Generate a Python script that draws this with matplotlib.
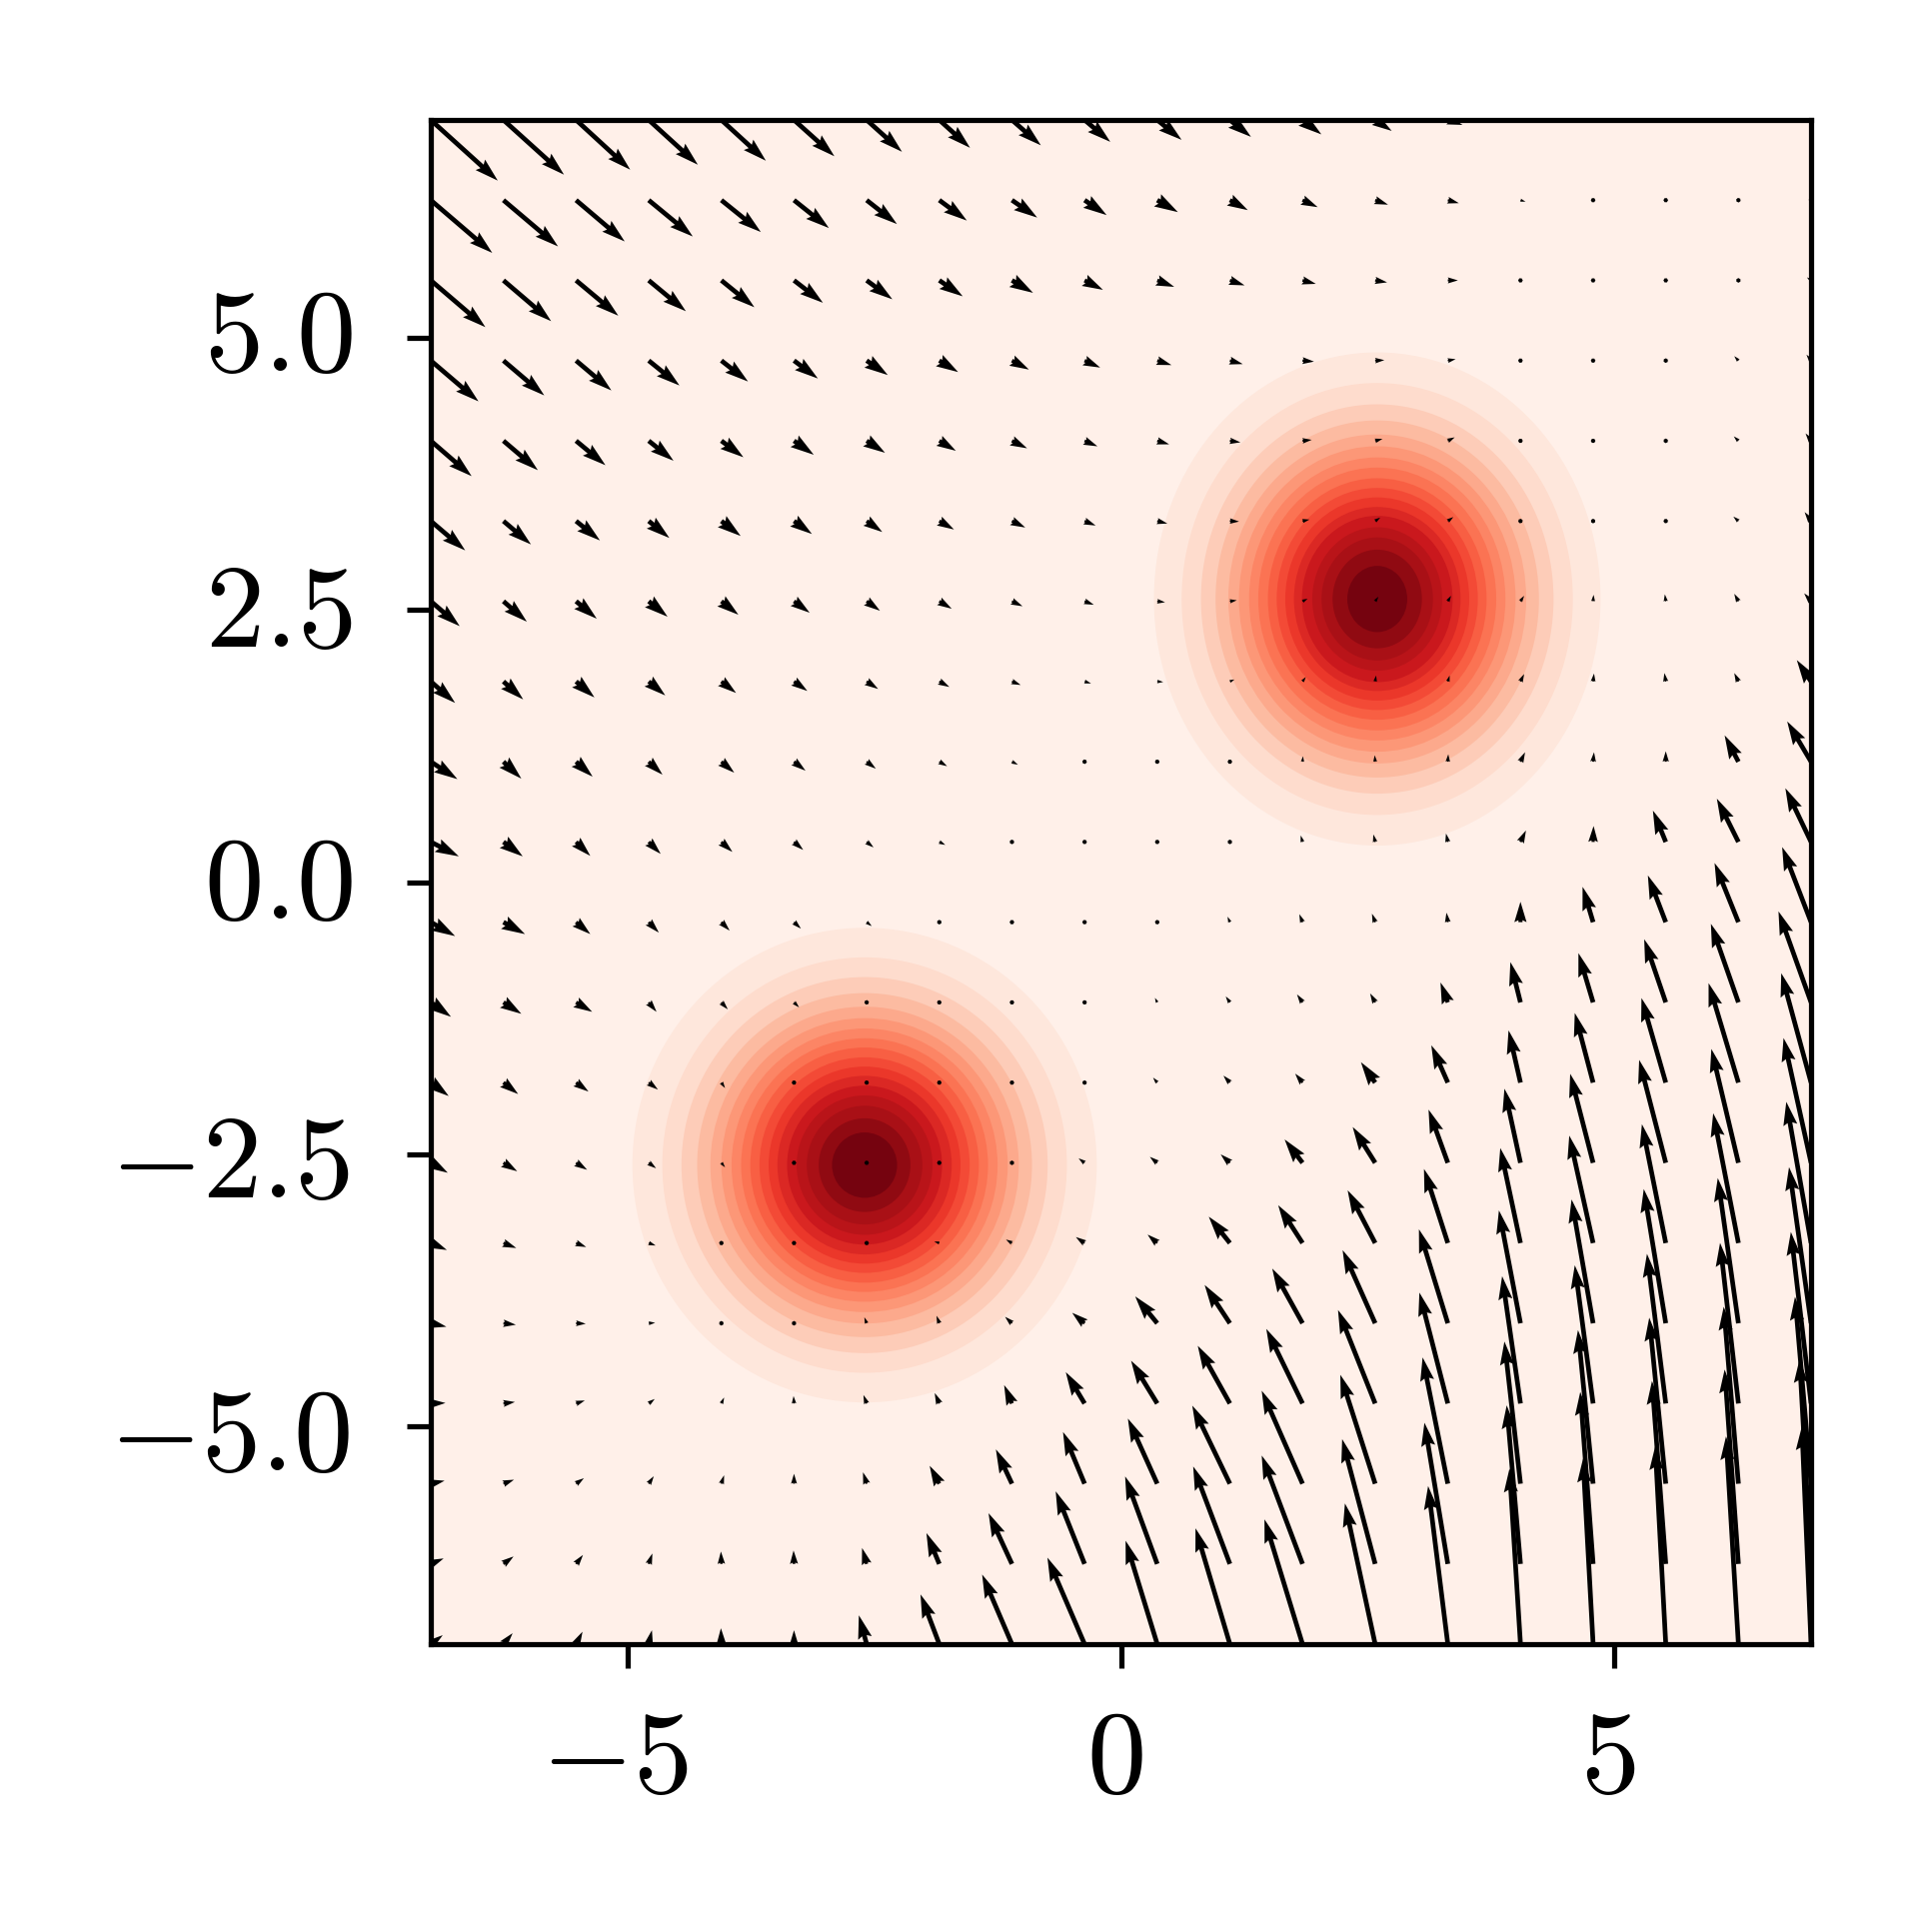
import numpy as np
import matplotlib
matplotlib.use('Agg')
from matplotlib import pyplot as plt
from matplotlib.patches import Ellipse
from matplotlib.transforms import ScaledTranslation

plt.rcParams['mathtext.fontset'] = 'cm'

# arrow components per grid point, rows run from y=7 down to y=-7
# units are 1/215 of a data unit in x, 1/219 in y; v is measured downward
u_rows = [
    [146,132,118,107,97,88,77,67,63,56,53,46,41,36,32,15,0,0,0,0],
    [134,119,106,96,86,76,66,60,55,48,45,39,33,28,24,11,0,0,3,-5],
    [119,104,92,81,72,63,56,51,46,40,37,32,29,26,22,0,0,0,-6,-9],
    [104,89,77,67,58,52,46,41,37,34,31,28,25,20,17,0,0,-6,-9,-10],
    [89,75,64,54,48,43,40,36,33,28,26,23,20,16,15,0,0,-8,-10,-12],
    [75,60,52,45,42,39,34,32,29,24,22,20,15,11,12,2,0,-6,-11,-14],
    [63,51,45,41,37,34,29,27,23,20,17,15,11,7,7,8,1,-2,-9,-15],
    [53,43,40,36,32,29,25,22,19,14,13,10,7,2,4,8,2,-3,-9,-31],
    [58,39,36,30,28,25,20,17,13,8,0,0,1,-1,1,10,2,0,-30,-52],
    [61,42,31,26,24,20,15,13,9,0,0,-1,-4,-4,-4,12,1,-28,-47,-56],
    [53,47,31,22,18,15,11,7,0,0,-2,-5,-7,-7,-3,0,-23,-39,-52,-63],
    [44,39,35,17,14,11,6,0,0,0,-5,-9,-12,-11,-16,-22,-32,-47,-60,-71],
    [39,32,27,20,8,6,0,0,0,-5,-9,-14,-16,-31,-36,-26,-40,-53,-65,-65],
    [37,30,24,16,8,0,0,0,-8,-13,-16,-20,-39,-49,-42,-35,-50,-58,-59,-60],
    [35,28,22,15,9,0,0,-11,-13,-19,-21,-46,-53,-60,-52,-44,-52,-52,-55,-54],
    [34,27,21,14,8,0,-5,-6,-15,-27,-48,-55,-66,-71,-63,-47,-47,-48,-45,-48],
    [32,25,19,13,6,-1,-7,-10,-17,-41,-57,-70,-79,-81,-62,-40,-40,-41,-40,-44],
    [30,23,17,11,6,0,-8,-21,-35,-47,-64,-82,-89,-76,-55,-35,-33,-36,-32,-35],
    [28,22,15,8,-1,-1,-10,-28,-51,-63,-70,-80,-89,-72,-51,-30,-28,-30,-30,-25],
    [26,20,14,7,-1,0,-17,-41,-65,-81,-69,-75,-83,-66,-43,-24,-22,-23,-27,-20],
]
v_rows = [
    [122,110,100,90,82,73,64,56,51,44,40,34,29,22,10,6,0,0,0,0],
    [106,93,83,73,64,56,48,41,35,30,24,20,14,9,6,3,0,0,1,-1],
    [94,82,71,62,54,45,38,32,25,19,13,10,7,4,0,0,0,0,-3,-6],
    [82,70,60,50,42,36,29,23,18,14,9,7,2,-1,-3,0,0,-4,-9,-12],
    [71,59,49,40,33,28,24,20,15,11,7,3,-2,-4,-7,0,0,-5,-9,-15],
    [59,47,39,34,30,26,22,17,13,9,5,1,-3,-7,-8,-7,-6,-6,-9,-18],
    [50,41,35,31,27,23,19,15,10,7,2,-2,-5,-9,-11,-11,-13,-14,-15,-16],
    [43,36,32,28,23,19,15,11,7,4,1,-4,-9,-12,-12,-15,-16,-17,-17,-43],
    [35,34,30,26,22,18,14,9,6,2,0,0,-11,-13,-15,-19,-19,-21,-53,-81],
    [29,29,28,24,20,16,11,6,3,0,0,-9,-13,-15,-17,-23,-32,-63,-87,-108],
    [28,24,24,21,17,13,8,4,0,0,-6,-11,-16,-17,-19,-41,-71,-94,-119,-151],
    [29,23,19,19,14,10,5,0,0,0,-9,-12,-16,-18,-40,-81,-99,-127,-158,-183],
    [27,23,18,14,11,7,0,0,0,-3,-10,-14,-18,-41,-75,-105,-140,-170,-200,-220],
    [20,17,14,11,9,0,0,0,-4,-9,-12,-17,-47,-72,-107,-149,-179,-207,-229,-251],
    [14,10,8,5,2,0,0,-3,-7,-12,-17,-53,-76,-106,-149,-191,-216,-239,-261,-284],
    [7,3,1,-1,-4,-7,-12,-15,-13,-21,-54,-77,-110,-147,-189,-227,-249,-270,-292,-314],
    [-1,-3,-6,-9,-12,-15,-17,-21,-37,-63,-86,-116,-150,-188,-223,-256,-278,-301,-323,-345],
    [-6,-8,-11,-15,-17,-20,-23,-36,-69,-104,-131,-157,-187,-219,-254,-286,-309,-334,-356,-376],
    [-11,-15,-18,-21,-25,-27,-32,-62,-102,-146,-176,-196,-218,-251,-284,-319,-346,-368,-391,-412],
    [-18,-22,-25,-28,-32,-28,-58,-100,-140,-174,-208,-233,-251,-283,-318,-353,-373,-398,-418,-438],
]

# contour band radii, outermost first
blob_a_center = (2.6, 2.6)
blob_a_rx = [2.265,1.984,1.788,1.64,1.511,1.403,1.30,1.207,1.109,1.02,.933,.845,.764,.659,.565,.453,.304]
blob_a_ry = [2.265,1.984,1.788,1.64,1.511,1.403,1.30,1.207,1.109,1.02,.933,.845,.764,.659,.565,.453,.304]
blob_b_center = (-2.6, -2.6)
blob_b_rx = [2.355,2.052,1.857,1.698,1.564,1.452,1.349,1.252,1.159,1.066,.973,.884,.786,.689,.586,.465,.330]
blob_b_ry = [2.18,1.908,1.727,1.58,1.455,1.35,1.255,1.165,1.08,.99,.905,.82,.73,.64,.545,.43,.30]

xticks = [-5, 0, 5]
xticklabels = ['$-5$', '$0$', '$5$']
yticks = [-5, -2.5, 0, 2.5, 5]
yticklabels = ['$-5.0$', '$-2.5$', '$0.0$', '$2.5$', '$5.0$']

n_layers = len(blob_a_rx) + 1
colors = plt.cm.Reds((np.arange(n_layers) + 0.5) / n_layers)

fig = plt.figure(figsize=(1933/300, 1933/300), dpi=300)
ax = fig.add_axes([431/1933, 1 - 1645/1933, 1381/1933, 1525/1933])
ax.set_facecolor(colors[0])
ax.set_xlim(-7, 7)
ax.set_ylim(-7, 7)

for center, rx, ry in [(blob_a_center, blob_a_rx, blob_a_ry), (blob_b_center, blob_b_rx, blob_b_ry)]:
    for i in range(len(rx)):
        ax.add_patch(Ellipse(center, 2*rx[i], 2*ry[i], facecolor=colors[i+1], edgecolor='none', zorder=1))

X, Y = np.meshgrid(np.linspace(-7, 7, 20), np.linspace(7, -7, 20))
U = np.array(u_rows) / 215.0
V = -np.array(v_rows) / 219.0
ax.quiver(X, Y, U, V, angles='xy', scale_units='xy', scale=1, width=0.0034, zorder=2)

ax.set_xticks(xticks)
ax.set_xticklabels(xticklabels)
ax.set_yticks(yticks)
ax.set_yticklabels(yticklabels)
ax.tick_params(axis='x', length=5.8, width=1.25, pad=8, labelsize=28.5)
ax.tick_params(axis='y', length=5.8, width=1.25, pad=13, labelsize=28.5)
for s in ax.spines.values():
    s.set_linewidth(1.25)

# nudge tick labels, offsets in points
x_nudge = [-3.2, -1.4, -1.4]
y_nudge = [(-0.6, 0.5), (-0.6, 0.5), (0, 2.1), (0, 2.0), (0, 2.9)]
for t, dx in zip(ax.get_xticklabels(), x_nudge):
    t.set_transform(t.get_transform() + ScaledTranslation(dx/72, 0, fig.dpi_scale_trans))
for t, d in zip(ax.get_yticklabels(), y_nudge):
    t.set_transform(t.get_transform() + ScaledTranslation(d[0]/72, d[1]/72, fig.dpi_scale_trans))

fig.savefig('out.png', dpi=300)
